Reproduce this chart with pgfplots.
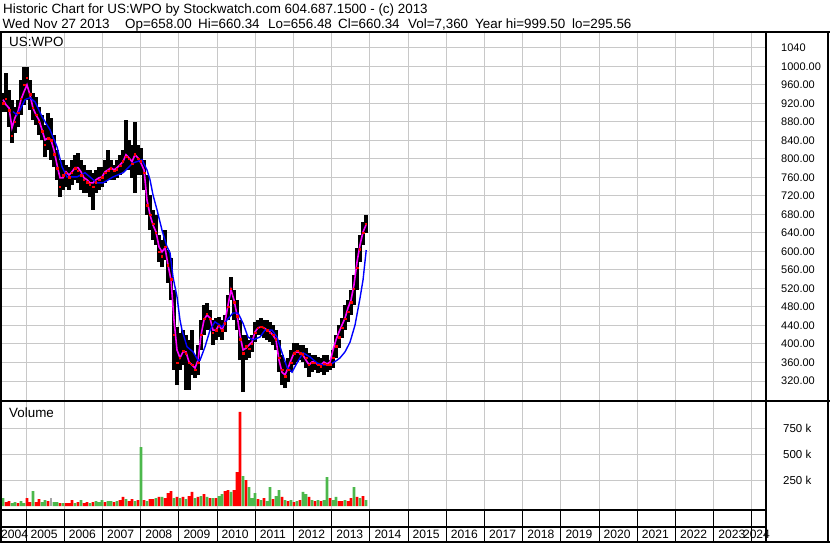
\documentclass[border=0pt]{standalone}
\usepackage{pgfplots}
\usepackage{pgfplotstable}
\pgfplotsset{compat=1.18}
\usepackage{fontspec}
\setmainfont{Liberation Sans}
\definecolor{gridgray}{RGB}{200,200,200}
\definecolor{volgreen}{RGB}{76,184,76}
\definecolor{volgray}{RGB}{165,165,165}
\definecolor{mag}{RGB}{255,0,255}
\definecolor{mablue}{RGB}{0,0,255}

\pgfplotstableread{
t hi lo c
2004.398 943 902 920
2004.476 986 902 930
2004.555 949 869 905
2004.633 928 835 850
2004.712 912 856 880
2004.791 928 869 900
2004.869 971 895 930
2004.948 999 917 960
2005.026 999 928 975
2005.105 971 906 940
2005.183 943 884 910
2005.262 934 874 895
2005.340 912 852 880
2005.419 895 841 860
2005.497 874 804 830
2005.576 899 819 845
2005.655 889 798 840
2005.733 852 783 810
2005.812 819 755 780
2005.890 798 718 740
2005.969 798 733 765
2006.047 787 739 770
2006.126 783 733 760
2006.204 798 744 770
2006.283 809 755 780
2006.361 813 748 775
2006.440 798 733 765
2006.518 787 726 755
2006.597 776 726 750
2006.675 776 718 745
2006.754 770 690 740
2006.832 776 726 750
2006.911 783 733 755
2006.990 783 739 760
2007.068 798 748 770
2007.147 819 755 775
2007.225 798 755 780
2007.304 787 755 775
2007.382 798 759 778
2007.461 809 765 785
2007.539 819 772 795
2007.618 884 776 805
2007.696 841 776 800
2007.775 830 759 790
2007.853 880 726 810
2007.932 830 765 800
2008.010 824 765 795
2008.089 798 733 770
2008.168 765 679 700
2008.246 722 646 680
2008.325 690 625 660
2008.403 679 614 640
2008.482 636 577 600
2008.560 625 566 590
2008.639 646 582 610
2008.717 603 532 570
2008.796 586 495 540
2008.874 517 344 420
2008.953 437 311 360
2009.031 424 344 370
2009.110 430 355 385
2009.188 419 301 380
2009.267 409 301 360
2009.346 430 333 355
2009.424 376 326 345
2009.503 398 333 360
2009.581 452 387 420
2009.660 484 419 455
2009.738 489 430 465
2009.817 474 430 455
2009.895 452 398 425
2009.974 456 409 430
2010.052 458 415 440
2010.131 452 409 430
2010.209 463 426 445
2010.288 506 452 480
2010.366 545 495 520
2010.445 517 452 490
2010.524 495 430 460
2010.602 452 365 410
2010.681 419 296 380
2010.759 419 365 395
2010.838 409 370 390
2010.916 419 383 400
2010.995 448 404 425
2011.073 452 419 435
2011.152 456 419 438
2011.230 452 413 435
2011.309 452 409 430
2011.387 448 404 425
2011.466 441 398 420
2011.544 430 387 410
2011.623 409 339 370
2011.702 376 311 345
2011.780 361 305 330
2011.859 370 318 345
2011.937 387 339 360
2012.016 402 355 380
2012.094 402 361 385
2012.173 398 365 380
2012.251 398 361 378
2012.330 391 348 370
2012.408 381 329 355
2012.487 376 339 360
2012.565 376 344 360
2012.644 372 337 355
2012.722 370 339 352
2012.801 376 333 358
2012.880 376 339 355
2012.958 365 344 356
2013.037 387 348 370
2013.115 419 370 395
2013.194 441 391 415
2013.272 456 413 435
2013.351 484 430 455
2013.429 495 448 470
2013.508 517 463 490
2013.586 549 484 520
2013.665 608 517 565
2013.743 636 577 605
2013.822 664 614 640
2013.900 679 640 660
}\pricedata

\pgfplotstableread{
t p
2004.398 928
2004.476 917
2004.555 910
2004.633 867
2004.712 889
2004.791 902
2004.869 928
2004.948 945
2005.026 960
2005.105 938
2005.183 910
2005.262 895
2005.340 884
2005.419 863
2005.497 841
2005.576 845
2005.655 841
2005.733 819
2005.812 787
2005.890 759
2005.969 759
2006.047 772
2006.126 765
2006.204 772
2006.283 781
2006.361 781
2006.440 772
2006.518 759
2006.597 755
2006.675 748
2006.754 748
2006.832 755
2006.911 759
2006.990 761
2007.068 772
2007.147 776
2007.225 781
2007.304 776
2007.382 781
2007.461 787
2007.539 794
2007.618 809
2007.696 802
2007.775 794
2007.853 809
2007.932 802
2008.010 791
2008.089 776
2008.168 711
2008.246 679
2008.325 657
2008.403 642
2008.482 610
2008.560 599
2008.639 608
2008.717 571
2008.796 538
2008.874 452
2008.953 387
2009.031 370
2009.110 383
2009.188 383
2009.267 361
2009.346 355
2009.424 348
2009.503 365
2009.581 419
2009.660 452
2009.738 463
2009.817 456
2009.895 430
2009.974 430
2010.052 441
2010.131 430
2010.209 448
2010.288 484
2010.366 517
2010.445 495
2010.524 463
2010.602 419
2010.681 387
2010.759 391
2010.838 398
2010.916 404
2010.995 426
2011.073 435
2011.152 437
2011.230 435
2011.309 430
2011.387 426
2011.466 419
2011.544 409
2011.623 365
2011.702 339
2011.780 333
2011.859 348
2011.937 365
2012.016 381
2012.094 383
2012.173 381
2012.251 376
2012.330 365
2012.408 355
2012.487 361
2012.565 361
2012.644 355
2012.722 355
2012.801 361
2012.880 357
2012.958 361
2013.037 387
2013.115 409
2013.194 426
2013.272 441
2013.351 456
2013.429 478
2013.508 495
2013.586 528
2013.665 577
2013.743 614
2013.822 642
2013.900 657
}\magdata

\pgfplotstableread{
t p
2004.660 902
2004.764 895
2004.843 906
2004.974 928
2005.105 932
2005.236 923
2005.314 910
2005.419 891
2005.628 863
2005.812 826
2005.942 783
2006.073 761
2006.335 761
2006.545 770
2006.859 748
2007.016 748
2007.278 761
2007.539 770
2007.801 791
2008.037 798
2008.168 776
2008.246 755
2008.325 722
2008.429 690
2008.560 646
2008.691 610
2008.770 597
2008.848 545
2008.953 502
2009.031 452
2009.084 430
2009.215 394
2009.372 383
2009.503 365
2009.555 365
2009.686 394
2009.817 430
2009.947 448
2010.131 437
2010.262 452
2010.419 467
2010.550 467
2010.681 445
2010.811 415
2010.942 409
2011.125 415
2011.256 430
2011.439 430
2011.571 415
2011.702 381
2011.832 350
2011.963 339
2012.094 359
2012.251 381
2012.434 372
2012.617 359
2012.775 355
2012.958 355
2013.141 365
2013.220 370
2013.351 383
2013.482 404
2013.613 441
2013.743 499
2013.822 538
2013.906 603
}\bluedata

\begin{document}
\begin{tikzpicture}[x=1pt,y=1pt]
\useasboundingbox (0,0) rectangle (830,543);
% ---------------- price panel
\begin{axis}[at={(0pt,143pt)}, anchor=south west, scale only axis,
  width=765pt, height=367pt,
  xmin=2004.3194, xmax=2024.345, ymin=279, ymax=1072,
  xtick={2005,2006,...,2024}, xticklabels={},
  ytick={320,360,...,1040},
  yticklabels={320.00,360.00,400.00,440.00,480.00,520.00,560.00,600.00,640.00,680.00,720.00,760.00,800.00,840.00,880.00,920.00,960.00,1000.00,1040},
  grid=major, grid style={gridgray, line width=1pt},
  major tick length=0pt, axis line style={draw=none},
  yticklabel pos=right,
  yticklabel style={anchor=west, inner sep=0pt, xshift=16pt, font=\fontsize{11}{12}\selectfont},
  clip=true]
\addplot[draw=none, mark=none, forget plot,
  error bars/.cd, y dir=plus, y explicit, error mark=none,
  error bar style={draw=black, solid, line width=3.1pt}]
  table[x=t, y=lo, y error plus expr={\thisrow{hi}-\thisrow{lo}}] {\pricedata};
\addplot[only marks, mark=square*, mark size=0.7pt, red, forget plot] table[x=t, y=c] {\pricedata};
\addplot[mag, line width=1.6pt] table[x=t, y=p] {\magdata};
\addplot[mablue, line width=1.4pt] table[x=t, y=p] {\bluedata};
\end{axis}
% ---------------- volume panel
\begin{axis}[at={(0pt,33pt)}, anchor=south west, scale only axis,
  width=765pt, height=108pt,
  xmin=2004.3194, xmax=2024.345, ymin=-38, ymax=1000,
  xtick={2005,2006,...,2024}, xticklabels={},
  ytick={250,500,750}, yticklabels={250 k,500 k,750 k},
  grid=major, grid style={gridgray, line width=1pt},
  major tick length=0pt, axis line style={draw=none},
  yticklabel pos=right,
  yticklabel style={anchor=west, inner sep=0pt, xshift=18pt, font=\fontsize{11.5}{12}\selectfont},
  clip=true]
\addplot[ybar, bar width=2.8pt, bar shift=0pt, fill=red, draw=none] coordinates {
(2004.476,38) (2004.555,48) (2004.791,29) (2005.026,77) (2005.105,38) (2005.262,38)
(2005.340,67) (2005.576,48) (2005.890,29) (2006.047,29) (2006.126,29) (2006.204,58)
(2006.361,38) (2006.518,29) (2006.597,38) (2006.754,38) (2007.068,38) (2007.304,38)
(2007.461,58) (2007.539,87) (2007.696,48) (2007.775,67) (2007.932,58) (2008.089,58)
(2008.246,67) (2008.325,67) (2008.482,87) (2008.639,77) (2008.717,125) (2008.796,144)
(2008.953,87) (2009.110,87) (2009.267,96) (2009.346,135) (2009.503,87) (2009.660,115)
(2009.817,77) (2009.974,77) (2010.209,144) (2010.288,154) (2010.445,154) (2010.524,327)
(2010.602,904) (2010.759,250) (2011.073,67) (2011.230,77) (2011.466,67) (2011.702,87)
(2011.859,48) (2012.016,38) (2012.173,58) (2012.408,87) (2012.565,48) (2012.722,48)
(2012.958,77) (2013.194,48) (2013.272,48) (2013.429,48) (2013.508,77) (2013.665,87)
(2013.822,96)};
\addplot[ybar, bar width=2.8pt, bar shift=0pt, fill=volgreen, draw=none] coordinates {
(2004.398,77) (2004.633,29) (2004.712,38) (2004.869,48) (2004.948,29) (2005.183,144)
(2005.419,38) (2005.497,58) (2005.733,38) (2005.812,38) (2005.969,29) (2006.283,29)
(2006.440,58) (2006.675,29) (2006.832,48) (2006.911,38) (2006.990,58) (2007.147,48)
(2007.225,48) (2007.382,48) (2007.618,67) (2007.853,48) (2008.010,567) (2008.168,48)
(2008.403,77) (2008.560,87) (2008.874,77) (2009.031,77) (2009.188,67) (2009.424,77)
(2009.581,96) (2009.738,87) (2009.895,77) (2010.052,96) (2010.131,115) (2010.366,135)
(2010.681,288) (2010.838,183) (2010.916,77) (2010.995,125) (2011.152,58) (2011.309,48)
(2011.387,183) (2011.544,96) (2011.623,154) (2011.780,58) (2011.937,58) (2012.094,48)
(2012.251,135) (2012.330,115) (2012.487,58) (2012.644,58) (2012.801,58) (2012.880,279)
(2013.037,58) (2013.115,87) (2013.351,58) (2013.586,183) (2013.743,77) (2013.900,58)};
\addplot[ybar, bar width=2.8pt, bar shift=0pt, fill=volgray, draw=none] coordinates {
(2005.655,77)};
\end{axis}
% ---------------- date strip
\begin{axis}[at={(0pt,2pt)}, anchor=south west, scale only axis,
  width=765pt, height=30pt,
  xmin=2004.3194, xmax=2024.345, ymin=0, ymax=1, ytick=\empty,
  xtick={2004.3194,2005,2006,...,2024},
  xticklabels={\hspace{-3.5pt}2004,2005,2006,2007,2008,2009,2010,2011,2012,2013,2014,2015,2016,2017,2018,2019,2020,2021,2022,2023,\hspace{-13.5pt}2024},
  xmajorgrids, grid style={black, line width=0.8pt},
  major tick length=0pt, axis line style={draw=none},
  xticklabel style={anchor=base west, inner sep=0pt, xshift=4.5pt, yshift=2pt, font=\fontsize{12.1}{13}\selectfont}]
\end{axis}
% ---------------- frame
\draw[line width=1.5pt] (0,511) -- (830,511);
\draw[line width=2.5pt] (1.2,0) -- (1.2,511);
\draw[line width=2pt] (765.5,0) -- (765.5,511);
\draw[line width=1.5pt] (828,0) -- (828,511);
\draw[line width=2pt] (0,142) -- (830,142);
\draw[line width=1.5pt] (0,33) -- (766,33);
\draw[line width=1.5pt] (0,16) -- (766,16);
\draw[line width=2pt] (0,1) -- (830,1);
% ---------------- texts
\node[anchor=base west, inner sep=0pt, font=\fontsize{13.4}{15}\selectfont] at (3,529.7)
  {Historic Chart for US:WPO by Stockwatch.com 604.687.1500 - (c) 2013};
\begin{scope}[every node/.style={anchor=base west, inner sep=0pt, font=\fontsize{13.4}{15}\selectfont}]
\node at (2.5,514.7) {Wed Nov 27 2013};
\node at (125,514.7) {Op=658.00};
\node at (198,514.7) {Hi=660.34};
\node at (268,514.7) {Lo=656.48};
\node at (338,514.7) {Cl=660.34};
\node at (408,514.7) {Vol=7,360};
\node at (475,514.7) {Year hi=999.50};
\node at (572,514.7) {lo=295.56};
\node at (9,496) {US:WPO};
\node at (9,125) {Volume};
\end{scope}
\end{tikzpicture}
\end{document}
